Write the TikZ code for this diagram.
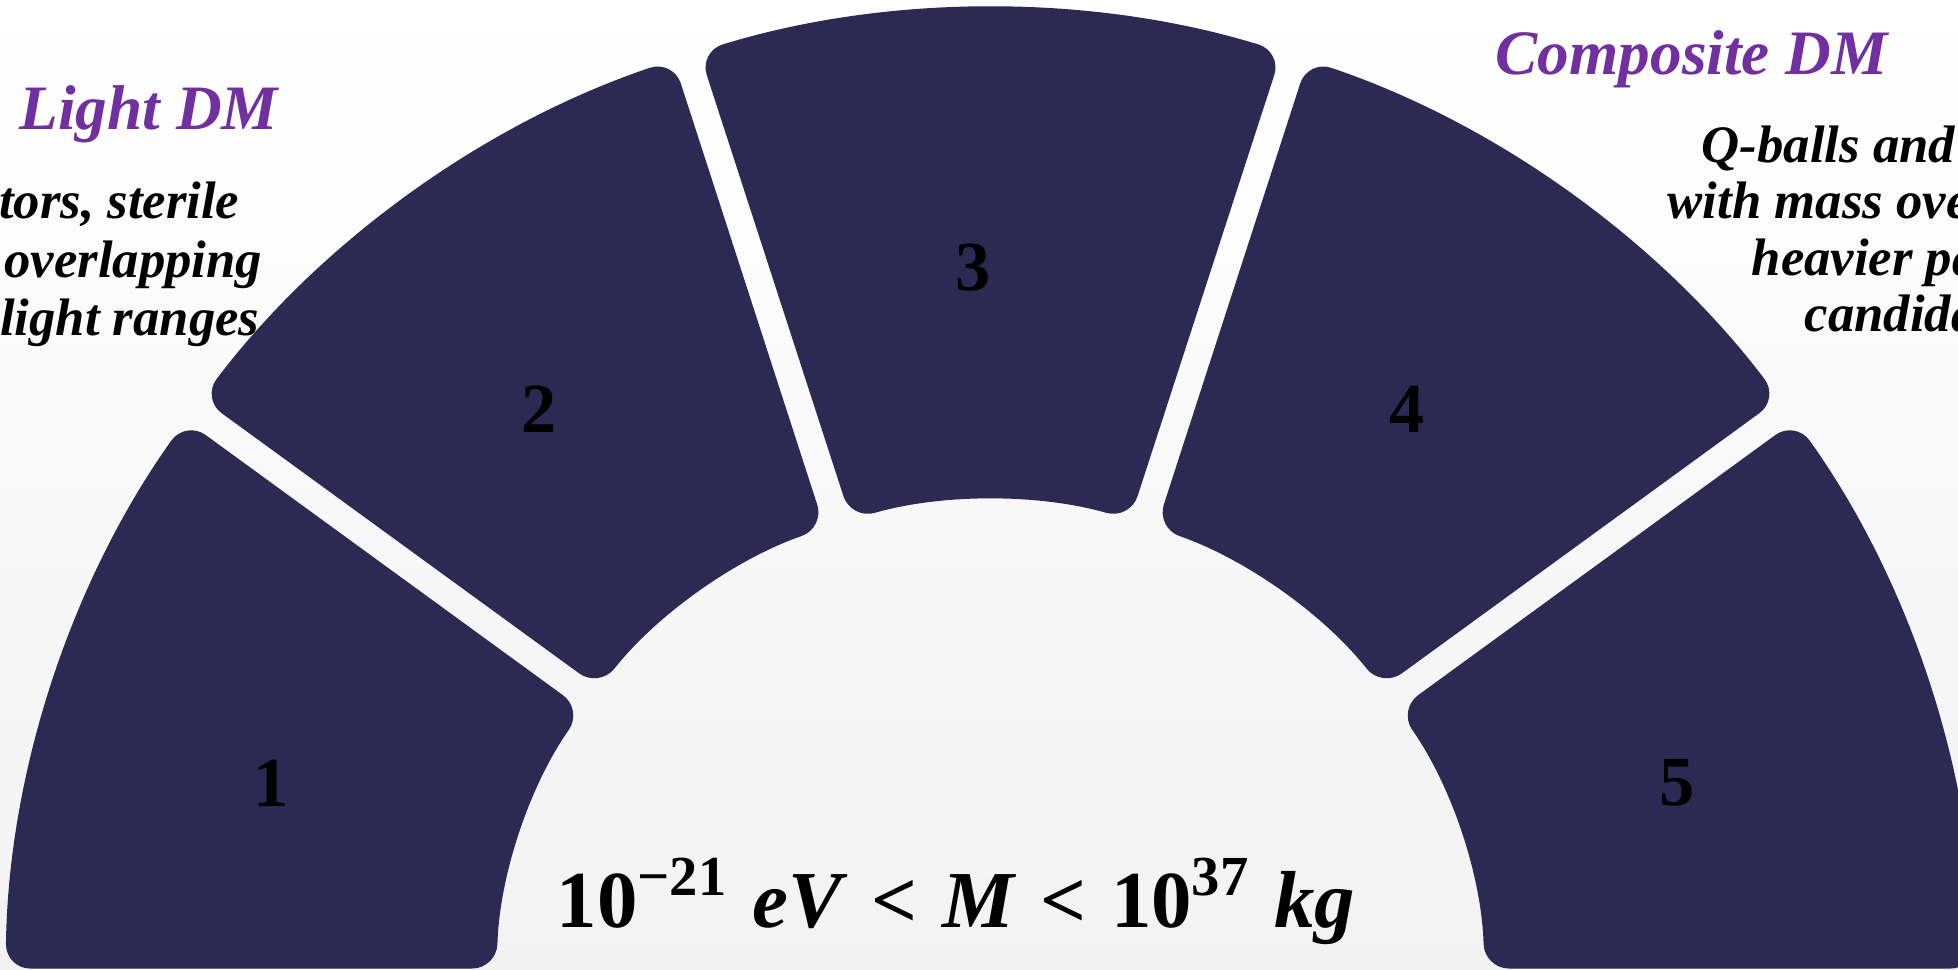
\documentclass[tikz,border=0pt]{standalone}
\usepackage{fontspec}
\setmainfont{Liberation Serif}
\usepackage{xcolor}
\definecolor{ringnavy}{HTML}{2C2952}
\definecolor{dmpurple}{HTML}{7030A0}
\usetikzlibrary{positioning,calc}

\begin{document}
\begin{tikzpicture}[
  segnum/.style={font=\fontsize{20}{24}\selectfont\bfseries, inner sep=0pt},
  dmtitle/.style={font=\fontsize{18}{22}\selectfont\bfseries\itshape, text=dmpurple, inner sep=0pt},
  dmtext/.style={font=\fontsize{15}{18}\selectfont\bfseries\itshape, inner sep=0pt},
  massrange/.style={font=\fontsize{23}{27}\selectfont\bfseries, inner sep=0pt},
]
  % canvas
  \useasboundingbox (0,0) rectangle (19.58,9.69);
  \clip (0,0) rectangle (19.58,9.69);
  \shade[top color=white, bottom color=black!5] (0,0) rectangle (19.58,9.69);

  % ring geometry (slightly flattened)
  \def\cx{9.905}  % centre x
  \def\cy{-0.13}  % centre y
  \def\rox{9.85}  % outer radius, x
  \def\roy{9.74}  % outer radius, y
  \def\rix{4.94}  % inner radius, x
  \def\riy{4.82}  % inner radius, y
  \def\hg{0.135}  % half gap

  \begin{scope}[shift={(\cx,\cy)}]
    \pgfmathsetmacro{\dout}{asin(\hg/\roy)}
    \pgfmathsetmacro{\din}{asin(\hg/\riy)}
    \foreach \k in {1,...,5} {
      \pgfmathsetmacro{\ia}{180-36*\k+\din}
      \pgfmathsetmacro{\oa}{180-36*\k+\dout}
      \pgfmathsetmacro{\ob}{216-36*\k-\dout}
      \pgfmathsetmacro{\ib}{216-36*\k-\din}
      \coordinate (in1) at ({\rix*cos(\ia)},{\riy*sin(\ia)});
      \coordinate (out1) at ({\rox*cos(\oa)},{\roy*sin(\oa)});
      \coordinate (in2) at ({\rix*cos(\ib)},{\riy*sin(\ib)});
      \fill[ringnavy, rounded corners=7pt]
        ($(in1)!0.5!(out1)$) -- (out1)
        arc[start angle=\oa, end angle=\ob, x radius=\rox, y radius=\roy]
        -- (in2)
        arc[start angle=\ib, end angle=\ia, x radius=\rix, y radius=\riy] -- cycle;
    }
  \end{scope}

  % segment numbers
  \node[segnum] (n1) at (2.71,1.86) {1};
  \node[segnum] (n2) at (5.39,5.60) {2};
  \node[segnum] (n3) at (9.73,7.01) {3};
  \node[segnum] (n4) at (14.07,5.60) {4};
  \node[segnum] (n5) at (16.77,1.86) {5};

  % titles
  \node[dmtitle, anchor=base west] (light) at (0.19,8.40) {Light DM};
  \node[dmtitle, anchor=base west] (composite) at (14.95,8.94) {Composite DM};

  % left text
  \node[dmtext, anchor=base east] (lt1) at (2.40,7.51) {tors, sterile};
  \node[dmtext, anchor=base east] (lt2) at (2.63,6.92) {overlapping};
  \node[dmtext, anchor=base east] (lt3) at (2.60,6.34) {light ranges};

  % right text
  \node[dmtext, anchor=base west] (rt1) at (17.01,8.07) {Q-balls and};
  \node[dmtext, anchor=base west] (rt2) at (16.67,7.51) {with mass ove};
  \node[dmtext, anchor=base west] (rt3) at (17.51,6.94) {heavier pa};
  \node[dmtext, anchor=base west] (rt4) at (18.04,6.38) {candida};

  % mass range
  \node[massrange, anchor=base] (mass) at (9.56,0.42)
    {10\textsuperscript{−21}\hspace{0.3em}\textit{eV}\hspace{0.3em}<\hspace{0.3em}\textit{M}\hspace{0.3em}<\hspace{0.3em}10\textsuperscript{37}\hspace{0.3em}\textit{kg}};
\end{tikzpicture}
\end{document}
